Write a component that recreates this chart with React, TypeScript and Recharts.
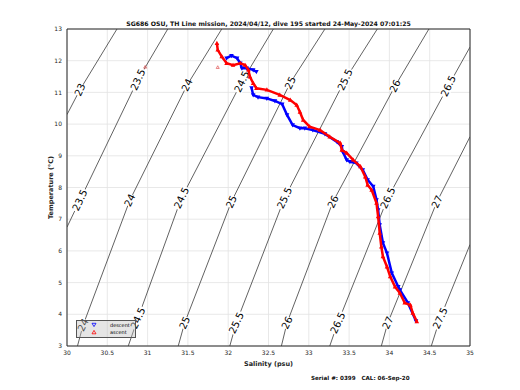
import { ScatterChart, Scatter, XAxis, YAxis, CartesianGrid, ReferenceLine, Legend } from "recharts";

const title = "SG686 OSU, TH Line mission, 2024/04/12, dive 195 started 24-May-2024 07:01:25";
const footer = "Serial #: 0399   CAL: 06-Sep-20";

const salinityTicks = [30, 30.5, 31, 31.5, 32, 32.5, 33, 33.5, 34, 34.5, 35];
const tempTicks = [3, 4, 5, 6, 7, 8, 9, 10, 11, 12, 13];

// sigma-theta contours, [salinity, temperature]
const contourLevels = ["23", "23.5", "24", "24.5", "25", "25.5", "26", "26.5", "27", "27.5"];
const contourPaths: [number, number][][] = [
  [[30, 10.3], [30.16, 11.08], [30.62, 13]],
  [[30, 6.75], [30.16, 7.6], [30.88, 11.4], [31.25, 13]],
  [[30.13, 3], [30.2, 3.66], [30.78, 7.6], [31.49, 11.23], [31.92, 13]],
  [[30.76, 3], [30.88, 3.88], [31.42, 7.67], [32.17, 11.34], [32.56, 13]],
  [[31.38, 3], [31.46, 3.73], [32.04, 7.55], [32.77, 11.3], [33.2, 13]],
  [[32.02, 3], [32.1, 3.73], [32.7, 7.67], [33.45, 11.4], [33.85, 13]],
  [[32.66, 3], [32.73, 3.73], [33.3, 7.55], [34.07, 11.2], [34.49, 13]],
  [[33.26, 3], [33.36, 3.73], [33.98, 7.67], [34.73, 11.2], [35, 12.43]],
  [[33.9, 3], [33.98, 3.73], [34.59, 7.55], [35, 9.6]],
  [[34.52, 3], [34.63, 3.88], [35, 6.2]],
];
// where the contour labels sit: [salinity, temperature, label]
const contourLabels: [number, number, string][] = [
  [30.16, 11.08, "23"], [30.88, 11.4, "23.5"], [31.49, 11.23, "24"], [32.17, 11.34, "24.5"],
  [32.77, 11.3, "25"], [33.45, 11.4, "25.5"], [34.07, 11.2, "26"], [34.73, 11.2, "26.5"],
  [30.16, 7.6, "23.5"], [30.78, 7.6, "24"], [31.42, 7.67, "24.5"], [32.04, 7.55, "25"],
  [32.7, 7.67, "25.5"], [33.3, 7.55, "26"], [33.98, 7.67, "26.5"], [34.59, 7.55, "27"],
  [30.2, 3.66, "24"], [30.88, 3.88, "24.5"], [31.46, 3.73, "25"], [32.1, 3.73, "25.5"],
  [32.73, 3.73, "26"], [33.36, 3.73, "26.5"], [33.98, 3.73, "27"], [34.63, 3.88, "27.5"],
];

// descent comes in two pieces (gap near the 24.5 label)
const descentTop: [number, number][] = [
  [31.98, 12.08], [32.04, 12.16], [32.11, 12.08], [32.15, 11.92], [32.17, 11.76], [32.23, 11.76],
  [32.31, 11.71], [32.35, 11.65],
];
const descent: [number, number][] = [
  [32.29, 11.14], [32.31, 10.92], [32.37, 10.85], [32.48, 10.81],
  [32.58, 10.73], [32.67, 10.63], [32.73, 10.29], [32.8, 9.97], [32.89, 9.87], [32.95, 9.87],
  [33.05, 9.81], [33.2, 9.69], [33.35, 9.44], [33.41, 9.29], [33.42, 9.13], [33.47, 8.87],
  [33.51, 8.81], [33.59, 8.77], [33.67, 8.55], [33.73, 8.24], [33.8, 8.03], [33.84, 7.61],
  [33.86, 7.29], [33.88, 6.82], [33.92, 6.25], [33.97, 5.93], [34.03, 5.3], [34.11, 4.87],
  [34.13, 4.77], [34.23, 4.36], [34.33, 3.79],
];

const ascent: [number, number][] = [
  [31.86, 12.55], [31.87, 12.34], [31.92, 12.13], [31.98, 11.92], [32.06, 11.86], [32.15, 11.92],
  [32.21, 11.86], [32.25, 11.71], [32.27, 11.49], [32.31, 11.29], [32.35, 11.13], [32.48, 11.08],
  [32.64, 10.92], [32.77, 10.76], [32.85, 10.6], [32.89, 10.38], [32.93, 10.13], [33.01, 9.92],
  [33.14, 9.81], [33.26, 9.6], [33.39, 9.4], [33.41, 9.18], [33.47, 9.09], [33.55, 8.87],
  [33.64, 8.66], [33.7, 8.34], [33.73, 8.08], [33.78, 7.92], [33.84, 7.51], [33.86, 7.08],
  [33.88, 6.56], [33.9, 6.13], [33.92, 5.82], [33.97, 5.5], [34.01, 5.19], [34.07, 4.87],
  [34.13, 4.67], [34.19, 4.36], [34.26, 4.29], [34.29, 4.04], [34.34, 3.77],
];
const ascentStray: [number, number][] = [[31.87, 11.79], [30.97, 11.8]];

const toPts = (arr: [number, number][]) => arr.map(([s, t]) => ({ s, t }));

const font = "'DejaVu Sans', sans-serif";
const axisColor = "#262626";

const NoShape = () => <g />;

const TriDown = (p: any) => (
  <path d={`M${p.cx - 2.3},${p.cy - 1.7}L${p.cx + 2.3},${p.cy - 1.7}L${p.cx},${p.cy + 2.5}Z`} fill="#0000ff" />
);
const TriUp = (p: any) => (
  <path d={`M${p.cx},${p.cy - 2.5}L${p.cx + 2.3},${p.cy + 1.7}L${p.cx - 2.3},${p.cy + 1.7}Z`} fill="#ff0000" />
);
const SmallTriUp = (p: any) => (
  <path d={`M${p.cx},${p.cy - 1.6}L${p.cx + 1.5},${p.cy + 1.1}L${p.cx - 1.5},${p.cy + 1.1}Z`} fill="none" stroke="#e05050" strokeWidth={0.7} />
);

const ContourLabel = (p: any) => {
  const txt = p.payload.label;
  const w = txt.length * 6;
  return (
    <g transform={`translate(${p.cx},${p.cy}) rotate(-65)`}>
      <rect x={-w / 2} y={-5} width={w} height={10} fill="#fff" />
      <text x={0} y={0} textAnchor="middle" dominantBaseline="central" fontSize={10} fontFamily={font} fill="#000">
        {txt}
      </text>
    </g>
  );
};

const renderLegend = () => (
  <div
    style={{
      width: 58,
      height: 16,
      background: "rgba(190,190,190,0.4)",
      border: "1px solid #555",
      position: "relative",
    }}
  >
    <svg width={58} height={16} style={{ position: "absolute", left: 0, top: 0 }}>
      <path d="M15,2.3L19,2.3L17,5.6Z" fill="none" stroke="#0000ff" strokeWidth={0.8} />
      <path d="M17,9.4L19,12.8L15,12.8Z" fill="none" stroke="#ff0000" strokeWidth={0.8} />
      <text x={33} y={5.6} fontSize={5} fontFamily={font}>descent</text>
      <text x={33} y={12.8} fontSize={5} fontFamily={font}>ascent</text>
    </svg>
  </div>
);

export default function App() {
  return (
    <div style={{ position: "absolute", left: 0, top: 0, width: 520, height: 390, background: "#fff" }}>
      <div
        style={{
          position: "absolute", left: 0, top: 20, width: 537, textAlign: "center",
          fontFamily: font, fontSize: 6.2, fontWeight: "bold", color: "#111",
        }}
      >
        {title}
      </div>
      <ScatterChart width={520} height={390} margin={{ top: 29, right: 50, bottom: 22, left: 42 }}>
        <CartesianGrid stroke="#e2e2e2" strokeWidth={0.8} />
        <XAxis
          type="number"
          dataKey="s"
          domain={[30, 35]}
          ticks={salinityTicks}
          allowDataOverflow
          height={22}
          tickLine={false}
          tickSize={3}
          tickMargin={2}
          stroke={axisColor}
          tick={{ fontSize: 6, fontFamily: font, fill: axisColor }}
          label={{ value: "Salinity (psu)", position: "insideBottom", offset: 2, style: { fontSize: 6.5, fontWeight: "bold", fontFamily: font, fill: axisColor } }}
        />
        <YAxis
          type="number"
          dataKey="t"
          domain={[3, 13]}
          ticks={tempTicks}
          allowDataOverflow
          width={25}
          tickLine={false}
          tickSize={3}
          tickMargin={2}
          stroke={axisColor}
          tick={{ fontSize: 6, fontFamily: font, fill: axisColor }}
          label={{ value: "Temperature (°C)", angle: -90, position: "insideLeft", offset: 9, style: { textAnchor: "middle", fontSize: 6.5, fontWeight: "bold", fontFamily: font, fill: axisColor } }}
        />
        <ReferenceLine x={35} stroke={axisColor} />
        <ReferenceLine y={13} stroke={axisColor} />
        {contourPaths.map((path, i) => (
          <Scatter
            key={contourLevels[i] + "-" + i}
            data={toPts(path)}
            line={{ stroke: "#3a3a3a", strokeWidth: 0.8 }}
            shape={NoShape}
            legendType="none"
            isAnimationActive={false}
          />
        ))}
        <Scatter
          data={contourLabels.map(([s, t, label]) => ({ s, t, label }))}
          shape={ContourLabel}
          legendType="none"
          isAnimationActive={false}
        />
        <Scatter
          data={toPts(descentTop)}
          line={{ stroke: "#0000ff", strokeWidth: 2.5 }}
          shape={TriDown}
          legendType="none"
          isAnimationActive={false}
        />
        <Scatter
          name="descent"
          data={toPts(descent)}
          line={{ stroke: "#0000ff", strokeWidth: 2.5 }}
          shape={TriDown}
          isAnimationActive={false}
        />
        <Scatter
          name="ascent"
          data={toPts(ascent)}
          line={{ stroke: "#ff0000", strokeWidth: 2.5 }}
          shape={TriUp}
          isAnimationActive={false}
        />
        <Scatter data={toPts(ascentStray)} shape={SmallTriUp} legendType="none" isAnimationActive={false} />
        <Legend
          content={renderLegend}
          layout="horizontal"
          verticalAlign="middle"
          align="center"
          wrapperStyle={{ left: 76, top: 320, width: 60, bottom: "auto" }}
        />
      </ScatterChart>
      <div
        style={{
          position: "absolute", left: 311, top: 375, fontFamily: font, fontSize: 5.6,
          fontWeight: "bold", color: "#111", whiteSpace: "pre",
        }}
      >
        {footer}
      </div>
    </div>
  );
}
